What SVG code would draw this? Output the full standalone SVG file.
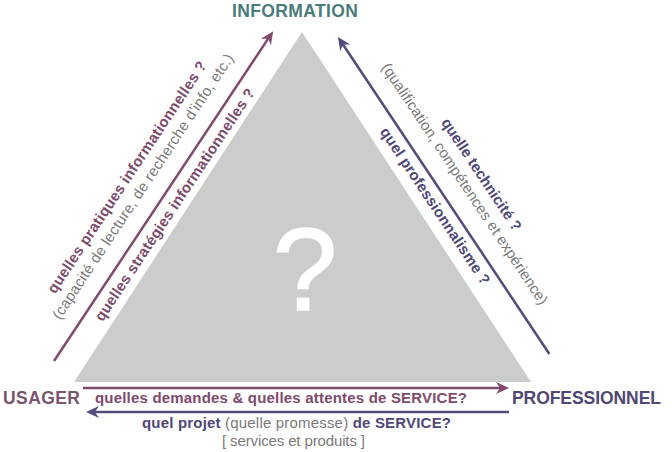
<svg xmlns="http://www.w3.org/2000/svg" width="672" height="452" viewBox="0 0 672 452">
<style>
.lbl{font-family:"Liberation Sans",Arial,sans-serif;font-weight:bold;font-size:17.5px}
.t{font-family:"Liberation Sans",Arial,sans-serif;font-size:15px}
.b{font-weight:bold}
.pink{fill:#7d4b6c}
.purp{fill:#4f4878}
.gray{fill:#7a7a7a}
.ap{stroke:#7f4a6d;stroke-width:2.5;fill:none}
.au{stroke:#544a7c;stroke-width:2.5;fill:none}
</style>
<defs>
<marker id="mp" viewBox="-14 -7 15 14" refX="-6" refY="0" markerWidth="15" markerHeight="14" markerUnits="userSpaceOnUse" orient="auto">
<path d="M0,0 L-13,-6 L-9,0 L-13,6 Z" fill="#7f4a6d"/>
</marker>
<marker id="mu" viewBox="-14 -7 15 14" refX="-6" refY="0" markerWidth="15" markerHeight="14" markerUnits="userSpaceOnUse" orient="auto">
<path d="M0,0 L-13,-6 L-9,0 L-13,6 Z" fill="#544a7c"/>
</marker>
</defs>
<rect width="672" height="452" fill="#ffffff"/>
<g id="triangle">
<polygon points="302,32 74,382 531,382" fill="#cccccc"/>
<text x="305" y="310" text-anchor="middle" font-family="Liberation Sans,Arial,sans-serif" font-size="116" fill="#ffffff" stroke="#ffffff" stroke-width="1.5">?</text>
</g>
<g id="information"><text class="lbl" x="232" y="17" textLength="126" fill="#4a7b7b">INFORMATION</text></g>
<g id="usager"><text class="lbl" x="3" y="404" textLength="77" fill="#7a5570">USAGER</text></g>
<g id="professionnel"><text class="lbl" x="512" y="404" textLength="149" fill="#4f4872">PROFESSIONNEL</text></g>
<g id="connectors">
<line class="ap" transform="translate(54,361) rotate(-56.4)" x1="0" y1="0" x2="390" y2="0" marker-end="url(#mp)"/>
<line class="au" transform="translate(338,37) rotate(56.3)" x1="381" y1="0" x2="6" y2="0" marker-end="url(#mu)"/>
<line class="ap" x1="83" y1="388" x2="503" y2="388" marker-end="url(#mp)"/>
<line class="au" x1="509" y1="412" x2="92" y2="412" marker-end="url(#mu)"/>
</g>
<g id="labels-left" transform="translate(54,361) rotate(-56.4)">
<text class="t b pink" x="56" y="-36" textLength="275">quelles pratiques informationnelles ?</text>
<text class="t gray" x="37" y="-17.5" textLength="315">(capacité de lecture, de recherche d'info, etc.)</text>
<text class="t b pink" x="59" y="19" textLength="276">quelles stratégies informationnelles ?</text>
</g>
<g id="labels-right" transform="translate(338,37) rotate(56.3)">
<text class="t b purp" x="128" y="-38" textLength="132">quelle technicité ?</text>
<text class="t gray" x="49" y="-19" textLength="287">(qualification, compétences et expérience)</text>
<text class="t b purp" x="102" y="18" textLength="185">quel professionnalisme ?</text>
</g>
<g id="labels-bottom">
<text class="t b pink" x="95" y="403" textLength="372">quelles demandes &amp; quelles attentes de SERVICE?</text>
<text class="t" x="142" y="428" textLength="309"><tspan class="b purp">quel projet</tspan><tspan class="gray"> (quelle promesse) </tspan><tspan class="b purp">de SERVICE?</tspan></text>
<text class="t gray" x="222" y="446" textLength="143">[ services et produits ]</text>
</g>
</svg>
